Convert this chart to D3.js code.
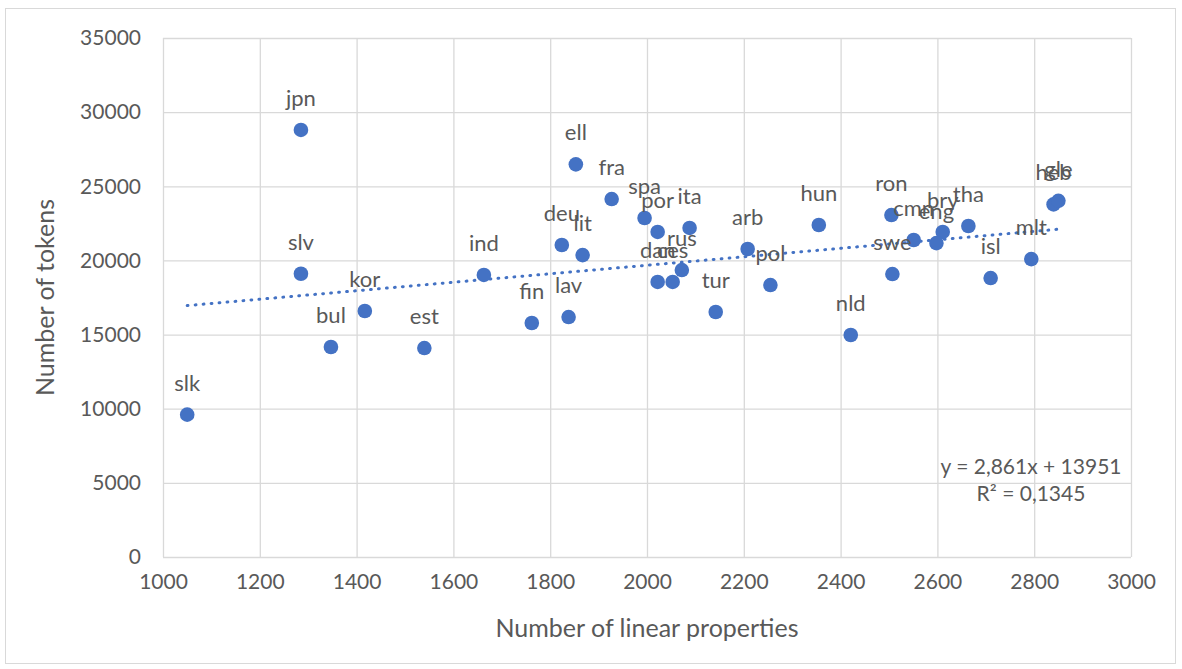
<!DOCTYPE html>
<html>
<head>
<meta charset="utf-8">
<script src="https://cdn.jsdelivr.net/npm/d3@7"></script>
<style>
  html, body { margin: 0; padding: 0; background: #fff; }
  svg { display: block; }
  text { font-family: Lato, "Open Sans", sans-serif; fill: #595959; }
</style>
</head>
<body>
<svg id="chart" width="1182" height="669"></svg>
<script>
// ---- data ----
const languages = ["slk","jpn","slv","bul","kor","est","ind","fin","lav","deu","lit","ell","fra","spa","por","ita","rus","dan","ces","tur","arb","pol","hun","nld","ron","swe","cmn","bry","eng","tha","isl","mlt","heb","gle"];
const linearProps = [1050,1285,1285,1347,1417,1540,1663,1762,1838,1824,1867,1853,1927,1995,2022,2088,2072,2022,2053,2142,2208,2255,2355,2421,2505,2507,2551,2611,2598,2664,2710,2794,2840,2850];
const tokens = [9600,28800,19100,14160,16590,14090,19020,15780,16180,21040,20360,26480,24140,22860,21920,22190,19350,18550,18550,16520,20770,18340,22390,14970,23060,19080,21380,21920,21170,22320,18810,20090,23780,24020];
const xTicks = [1000,1200,1400,1600,1800,2000,2200,2400,2600,2800,3000];
const yTicks = [0,5000,10000,15000,20000,25000,30000,35000];
const trendSlope = 2.861;
const trendIntercept = 13951;
const trendLabel = ["y = 2,861x + 13951", "R² = 0,1345"];
const xTitle = "Number of linear properties";
const yTitle = "Number of tokens";

// ---- layout ----
const svg = d3.select("#chart");
const plot = { left: 163, right: 1131, top: 38, bottom: 557 };
const x = d3.scaleLinear().domain([1000, 3000]).range([plot.left, plot.right]);
const y = d3.scaleLinear().domain([0, 35000]).range([plot.bottom, plot.top]);
const gridColor = "#d9d9d9";
const markColor = "#4472C4";

// chart border
svg.append("rect").attr("x", 5.5).attr("y", 8.5).attr("width", 1170).attr("height", 655)
  .attr("fill", "#fff").attr("stroke", gridColor).attr("stroke-width", 1);

// grid via axes
const xGrid = d3.axisBottom(x).tickValues(xTicks).tickSize(-(plot.bottom - plot.top)).tickFormat("");
const yGrid = d3.axisLeft(y).tickValues(yTicks).tickSize(-(plot.right - plot.left)).tickFormat("");
svg.append("g").attr("transform", `translate(0,${plot.bottom})`).call(xGrid)
  .call(g => g.select(".domain").remove())
  .selectAll("line").attr("stroke", gridColor).attr("stroke-width", 1.3);
svg.append("g").attr("transform", `translate(${plot.left},0)`).call(yGrid)
  .call(g => g.select(".domain").remove())
  .selectAll("line").attr("stroke", gridColor).attr("stroke-width", 1.3);

// tick labels via axes
const xAxis = d3.axisBottom(x).tickValues(xTicks).tickSize(0).tickPadding(17).tickFormat(d3.format("d"));
const yAxis = d3.axisLeft(y).tickValues(yTicks).tickSize(0).tickPadding(22).tickFormat(d3.format("d"));
svg.append("g").attr("transform", `translate(0,${plot.bottom})`).call(xAxis)
  .call(g => g.select(".domain").remove())
  .selectAll("text").attr("font-size", 21).attr("fill", "#595959").attr("font-family", "Lato, sans-serif");
svg.append("g").attr("transform", `translate(${plot.left},0)`).call(yAxis)
  .call(g => g.select(".domain").remove())
  .selectAll("text").attr("font-size", 21).attr("fill", "#595959").attr("font-family", "Lato, sans-serif");

// axis titles
svg.append("text").attr("x", (plot.left + plot.right) / 2).attr("y", 637)
  .attr("text-anchor", "middle").attr("font-size", 25).text(xTitle);
svg.append("text").attr("transform", `translate(54,${(plot.top + plot.bottom) / 2}) rotate(-90)`)
  .attr("text-anchor", "middle").attr("font-size", 25).text(yTitle);

// trendline
const xMin = d3.min(linearProps), xMax = d3.max(linearProps);
svg.append("line")
  .attr("x1", x(xMin)).attr("y1", y(trendSlope * xMin + trendIntercept))
  .attr("x2", x(xMax)).attr("y2", y(trendSlope * xMax + trendIntercept))
  .attr("stroke", markColor).attr("stroke-width", 3).attr("stroke-linecap", "round")
  .attr("stroke-dasharray", "0.8 7.2");

// points
const pts = languages.map((l, i) => ({ lang: l, x: linearProps[i], y: tokens[i] }));
svg.append("g").selectAll("circle").data(pts).join("circle")
  .attr("cx", d => x(d.x)).attr("cy", d => y(d.y)).attr("r", 7.3)
  .attr("fill", markColor);

// labels
svg.append("g").selectAll("text").data(pts).join("text")
  .attr("x", d => x(d.x)).attr("y", d => y(d.y) - 24)
  .attr("text-anchor", "middle").attr("font-size", 22).attr("fill", "#404040")
  .text(d => d.lang);

// trend label
svg.append("g").selectAll("text").data(trendLabel).join("text")
  .attr("x", 1031).attr("y", (d, i) => 474 + i * 27)
  .attr("text-anchor", "middle").attr("font-size", 21).attr("fill", "#595959")
  .text(d => d);
</script>
</body>
</html>
